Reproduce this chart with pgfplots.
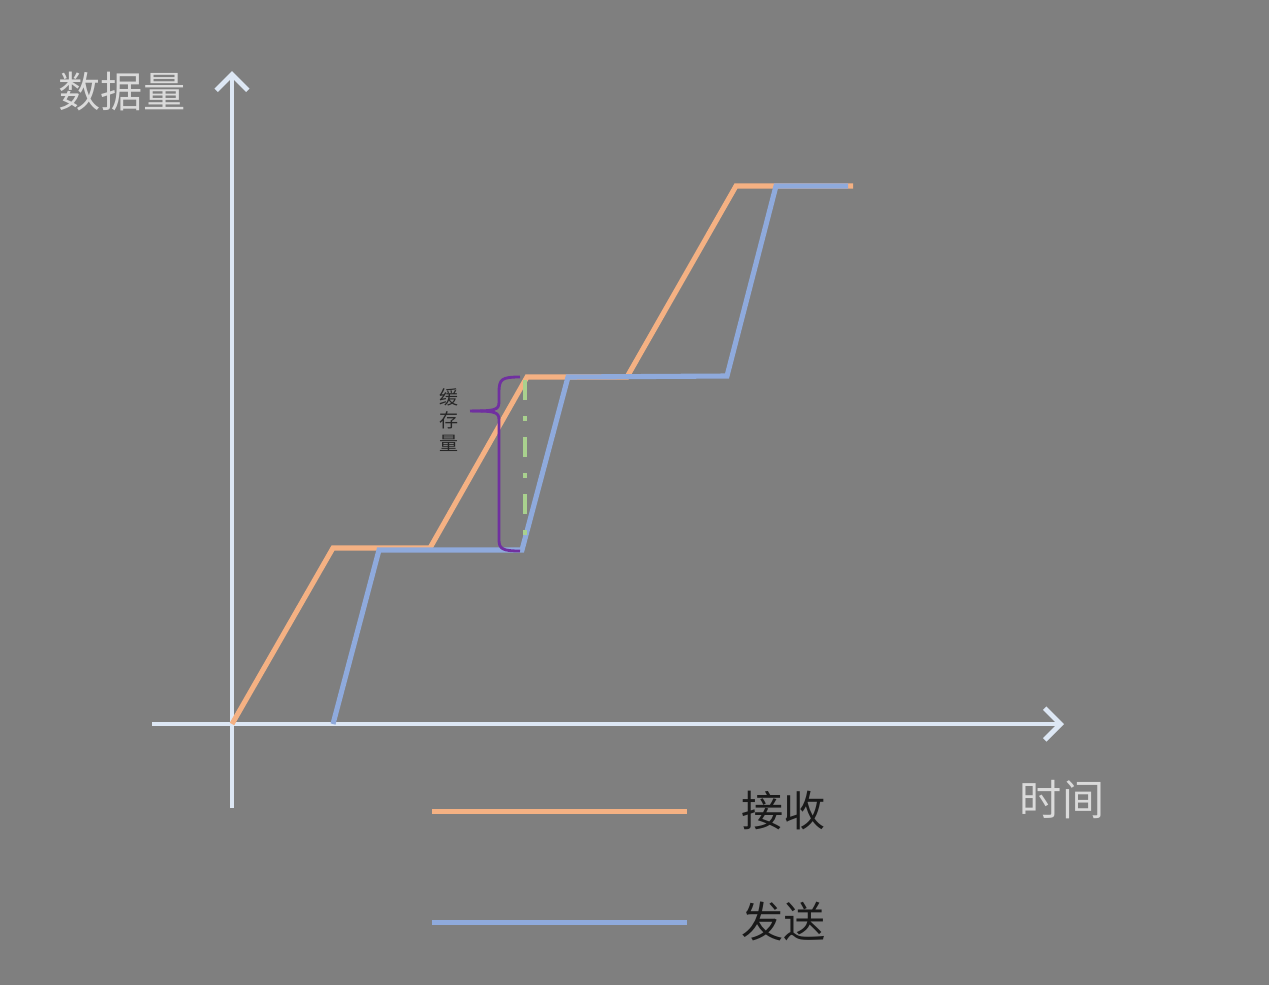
\documentclass[border=0pt]{standalone}
\usepackage{pgfplots}
\pgfplotsset{compat=1.18}
\usetikzlibrary{arrows.meta}
\usepackage{fontspec}
\setmainfont{Noto Sans CJK SC}
\definecolor{bg}{HTML}{7F7F7F}
\definecolor{axc}{HTML}{DDE7F4}
\definecolor{recv}{HTML}{F4B183}
\definecolor{send}{HTML}{8FAADC}
\definecolor{grn}{HTML}{A9D18E}
\definecolor{purp}{HTML}{7030A0}
\definecolor{lbl}{HTML}{DADADA}
\begin{document}
\begin{tikzpicture}
\begin{axis}[
  scale only axis, width=12.69cm, height=9.85cm,
  xmin=-2.32, xmax=10.37, ymin=-2.61, ymax=7.24,
  hide axis, clip=false,
  legend style={draw=none, fill=none, font=\fontsize{12}{14}\selectfont, text=black!90,
    at={(axis cs:1.86,-0.59)}, anchor=north west, row sep=20pt,
    nodes={inner sep=0pt}},
  legend cell align=left,
  legend image code/.code={\draw[#1, line width=1.45pt] (0cm,0cm) -- (2.55cm,0cm); \path (3.07cm,0cm);},
]
\fill[bg] (axis cs:-2.32,-2.61) rectangle (axis cs:10.37,7.24);
% axes
\draw[axc, line width=1.4pt, -{Straight Barb[length=4.5pt,width=9pt,line width=1.4pt]}] (axis cs:0,-0.84) -- (axis cs:0,6.53);
\draw[axc, line width=1.4pt, -{Straight Barb[length=4.5pt,width=9pt,line width=1.4pt]}] (axis cs:-0.80,0) -- (axis cs:8.32,0);
% receive
\addplot[recv, line width=1.45pt, line join=miter] coordinates {
 (0,0) (1.01,1.76) (1.98,1.76) (2.95,3.47) (3.95,3.47) (5.04,5.38) (6.21,5.38)};
\addlegendentry{接收}
% send
\addplot[send, line width=1.45pt, line join=miter] coordinates {
 (1.01,0) (1.47,1.74) (2.90,1.74) (3.36,3.47) (4.95,3.48) (5.44,5.38) (6.16,5.38)};
\addlegendentry{发送}
% buffer dash-dot
\draw[grn, line width=1.2pt, dash pattern=on 0.2cm off 0.16cm on 0.05cm off 0.16cm] (axis cs:2.93,3.44) -- (axis cs:2.93,1.84);
% brace
\draw[purp, line width=0.8pt] (axis cs:2.88,3.47) .. controls (axis cs:2.70,3.47) and (axis cs:2.67,3.45) .. (axis cs:2.67,3.32) -- (axis cs:2.67,3.22)
  .. controls (axis cs:2.67,3.14) and (axis cs:2.63,3.13) .. (axis cs:2.38,3.13);
\draw[purp, line width=0.8pt] (axis cs:2.40,3.13) .. controls (axis cs:2.63,3.13) and (axis cs:2.67,3.12) .. (axis cs:2.67,3.04) -- (axis cs:2.67,1.84)
  .. controls (axis cs:2.67,1.75) and (axis cs:2.71,1.73) .. (axis cs:2.88,1.73);
\node[text=black!85, font=\fontsize{5.4}{6.6}\selectfont, align=center] at (axis cs:2.17,3.04) {缓\\存\\量};
% labels
\node[text=lbl, font=\fontsize{12}{14}\selectfont] at (axis cs:-1.10,6.32) {数据量};
\node[text=lbl, font=\fontsize{12}{14}\selectfont] at (axis cs:8.30,-0.76) {时间};
\end{axis}
\end{tikzpicture}
\end{document}
